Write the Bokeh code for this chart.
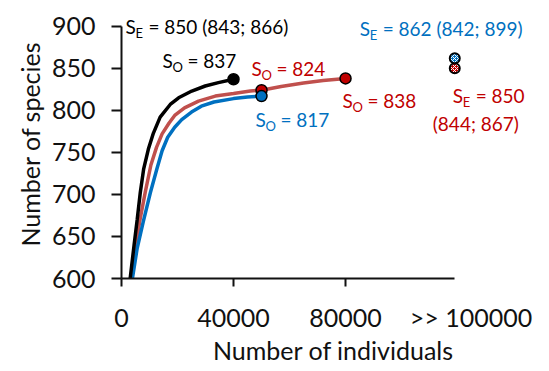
from bokeh.plotting import figure
from bokeh.models import Label, FixedTicker, Range1d, LinearAxis
from bokeh.embed import file_html
from bokeh.resources import INLINE

FONT = "Lato"
NB = "\u00a0"

# ---- data ----
black_x = [3100, 4500, 5600, 6700, 7900, 9600, 11400, 13800, 17400, 20400, 25100, 29900, 34600, 40000]
black_y = [600, 640, 670, 702, 730, 754, 773, 792, 807, 815, 823, 829, 833, 837]

red_x = [3500, 5000, 6500, 8500, 10500, 12500, 14500, 17000, 19000, 22500, 27500, 33500,
         40000, 46000, 50000, 57000, 65000, 72000, 80000]
red_y = [600, 635, 668, 703, 735, 756, 772, 785, 794, 803, 811, 817,
         820, 823, 824, 828.5, 832.5, 835.5, 838]

blue_x = [3900, 5600, 7800, 10300, 12600, 14500, 16500, 19000, 21500, 25000, 28500, 33000, 40000, 45000, 50000]
blue_y = [600, 636, 668, 702, 730, 752, 768, 780, 789, 798, 805, 810, 814, 816, 817]

# observed richness (end points)
black_obs = (40000, 837)
red_obs_mid = (50000, 824)
red_obs_end = (80000, 838)
blue_obs = (50000, 817)

# estimated richness at ">> 100000"
far_x = 119000
se_blue = 862
se_red = 850

x_ticks = [0, 40000, 80000]
x_tick_labels = ["0", "40000", "80000"]
far_label = ">> 100000"
far_label_pos = 124800
y_ticks = [600, 650, 700, 750, 800, 850, 900]

BLACK = "#000000"
RED_LINE = "#C0504D"
RED = "#C00000"
BLUE = "#0070C0"
AX = "#111111"

p = figure(width=545, height=367, output_backend="svg", toolbar_location=None,
           x_range=Range1d(0, 151400), y_range=Range1d(600, 920),
           min_border_left=121, min_border_right=0, min_border_top=9, min_border_bottom=80)
p.outline_line_color = None
p.grid.grid_line_color = None
p.background_fill_color = "white"
p.border_fill_color = "white"

# x axis (line + ticks, no labels)
xa = p.xaxis[0]
xa.ticker = FixedTicker(ticks=x_ticks)
xa.bounds = (0, far_x)
xa.major_label_overrides = {t: "" for t in x_ticks}
xa.major_label_standoff = 0
xa.major_tick_out = 8

# second x axis below carries the tick labels and the title
overrides = dict(zip(x_ticks, x_tick_labels))
overrides[far_label_pos] = far_label
xb = LinearAxis(ticker=FixedTicker(ticks=x_ticks + [far_label_pos]),
                major_label_overrides=overrides)
xb.major_tick_out = 0
xb.major_label_standoff = 15
xb.axis_label = "Number of individuals"
xb.axis_label_standoff = 0
p.add_layout(xb, "below")

ya = p.yaxis[0]
ya.ticker = FixedTicker(ticks=y_ticks)
ya.bounds = (600, 900)
ya.major_tick_out = 10
ya.major_label_standoff = 16
ya.axis_label = "Number of species"
ya.axis_label_standoff = 4

for ax in (xa, xb, ya):
    ax.axis_line_width = 2
    ax.major_tick_line_width = 2
    ax.minor_tick_line_color = None
    ax.major_tick_in = 0
    ax.major_label_text_font = FONT
    ax.major_label_text_font_size = "25px"
    ax.major_label_text_color = AX
    ax.axis_label_text_font = FONT
    ax.axis_label_text_font_size = "25px"
    ax.axis_label_text_font_style = "normal"
    ax.axis_label_text_color = AX
    ax.axis_line_color = AX if ax is not xb else None
    ax.major_tick_line_color = AX if ax is not xb else None

# curves
p.line(red_x, red_y, line_color=RED_LINE, line_width=3.5)
p.line(blue_x, blue_y, line_color=BLUE, line_width=3.5)
p.line(black_x, black_y, line_color=BLACK, line_width=3.5)

# observed points
p.scatter([red_obs_mid[0], red_obs_end[0]], [red_obs_mid[1], red_obs_end[1]], size=11,
          fill_color=RED, line_color=BLACK, line_width=1.5)
p.scatter([blue_obs[0]], [blue_obs[1]], size=11, fill_color=BLUE, line_color=BLACK, line_width=1.5)
p.scatter([black_obs[0]], [black_obs[1]], size=11, fill_color=BLACK, line_color=BLACK, line_width=1.5)

# estimated points (hatched)
p.scatter([far_x], [se_red], size=10, fill_color=RED, line_color=BLACK, line_width=2,
          hatch_pattern="x", hatch_color="white", hatch_scale=4, hatch_weight=1)
p.scatter([far_x], [se_blue], size=10, fill_color=BLUE, line_color=BLACK, line_width=2,
          hatch_pattern="x", hatch_color="white", hatch_scale=4, hatch_weight=1)


def s_label(anchor, sub, rest, color, dx, dy, size=19):
    x, y = anchor
    common = dict(x=x, y=y, text_font=FONT, text_color=color, text_baseline="middle")
    p.add_layout(Label(x_offset=dx, y_offset=dy, text="S", text_font_size=f"{size}px", **common))
    p.add_layout(Label(x_offset=dx + 10, y_offset=dy - 7, text=sub, text_font_size="13px", **common))
    sw = 8 if sub == "E" else 10
    p.add_layout(Label(x_offset=dx + 10 + sw, y_offset=dy, text=NB + rest, text_font_size=f"{size}px", **common))


def plain_label(anchor, text, color, dx, dy, size=19):
    x, y = anchor
    p.add_layout(Label(x=x, y=y, x_offset=dx, y_offset=dy, text=text, text_font=FONT,
                       text_font_size=f"{size}px", text_color=color, text_baseline="middle"))


s_label(black_obs, "E", "= 850 (843; 866)", BLACK, -108, 53)
s_label(black_obs, "O", "= 837", BLACK, -71, 19)
s_label(red_obs_mid, "O", "= 824", RED, -10, 22)
s_label(red_obs_end, "O", "= 838", RED, -3, -22)
s_label(blue_obs, "O", "= 817", BLUE, -6, -23)
s_label((far_x, se_blue), "E", "= 862 (842; 899)", BLUE, -95, 30)
s_label((far_x, se_red), "E", "= 850", RED, -2, -27)
plain_label((far_x, se_red), "(844; 867)", RED, -22, -55)

open("out.html", "w").write(file_html(p, INLINE))
